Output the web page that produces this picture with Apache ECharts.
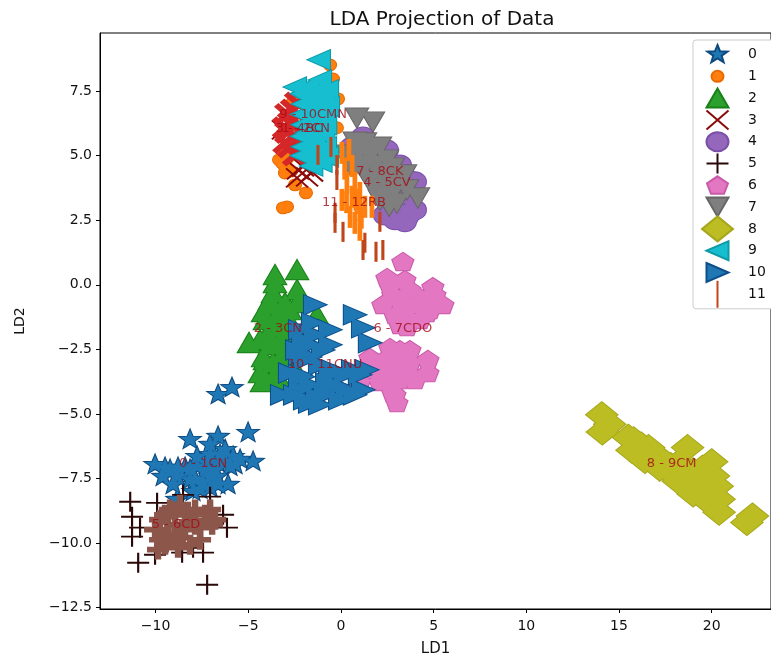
<!DOCTYPE html>
<html>
<head>
<meta charset="utf-8">
<title>LDA Projection of Data</title>
<script src="https://cdn.jsdelivr.net/npm/echarts@6/dist/echarts.min.js"></script>
<style>
html, body { margin: 0; padding: 0; background: #fff; overflow: hidden; }
#chart { width: 771px; height: 657px; }
</style>
</head>
<body>
<div id="chart"></div>
<script>
var xTicks = [-10, -5, 0, 5, 10, 15, 20];
var yTicks = [-12.5, -10, -7.5, -5, -2.5, 0, 2.5, 5, 7.5];

var class0 = [[-6.63,-4.26],[-5.88,-3.99],[-8.14,-6.0],[-6.63,-5.88],[-5.01,-5.73],[-4.74,-6.85],[-10.03,-6.97],[-9.6,-7.43],[-5.82,-6.66],[-5.44,-6.77],[-7.06,-6.19],[-6.25,-6.39],[-7.76,-7.04],[-8.84,-7.43],[-9.06,-7.74],[-8.14,-7.55],[-7.44,-7.66],[-6.68,-7.43],[-6.09,-7.74],[-7.06,-7.86],[-7.98,-8.01],[-8.84,-8.32],[-5.98,-7.04],[-6.68,-6.89],[-7.22,-6.89],[-7.76,-6.66],[-8.41,-7.08],[-9.22,-7.16],[-7.33,-7.16],[-6.79,-7.16],[-6.25,-6.85],[-5.71,-6.97],[-8.14,-7.16],[-8.79,-7.08],[-9.49,-7.08],[-7.87,-7.55],[-7.06,-7.43],[-7.6,-7.93],[-6.63,-7.74],[-6.52,-6.58],[-7.06,-6.58]];
var class1 = [[-0.59,8.51],[-0.16,7.2],[-0.43,7.97],[-0.22,6.08],[-2.59,7.08],[-3.34,4.84],[-3.13,5.11],[-3.02,4.33],[-2.48,3.87],[-1.89,3.56],[-2.91,3.02],[-3.13,2.98],[-3.18,4.72],[-3.02,4.57],[-2.9,4.9],[-2.7,4.4],[-3.1,4.7]];
var class2 = [[-2.37,0.58],[-3.56,0.39],[-3.56,0.08],[-3.67,-0.31],[-2.37,-0.19],[-3.83,-0.77],[-4.2,-1.04],[-3.02,-0.7],[-2.37,-0.7],[-1.29,-1.16],[-4.96,-2.24],[-3.94,-1.86],[-3.45,-1.63],[-4.2,-2.79],[-4.37,-3.41],[-3.67,-3.02],[-4.26,-3.75],[-3.67,-3.6],[-2.91,-2.24],[-3.13,-2.63],[-2.37,-3.79],[-2.91,-1.24],[-3.83,-0.58],[-3.29,-0.97],[-4.1,-1.35],[-3.56,-1.35],[-3.02,-1.55],[-4.37,-2.13],[-3.83,-2.32],[-3.29,-2.13],[-2.75,-1.93],[-4.1,-2.9],[-3.29,-3.1],[-2.75,-2.9],[-4.1,-3.6],[-3.29,-3.68],[-2.75,-0.97],[-2.21,-0.58]];
var class3Edge = [[-2.32,4.45],[-1.83,4.18],[-1.56,4.37],[-2.37,4.14],[-2.05,4.57],[-3.13,6.0]];
var class3Core = [[-2.59,6.77],[-2.75,6.27],[-2.59,5.73],[-2.75,5.34],[-2.48,5.03],[-2.37,7.04],[-3.02,6.08],[-2.9,6.6],[-2.9,5.9],[-3.0,5.5]];
var class4 = [[1.19,5.73],[0.59,5.34],[2.48,5.22],[3.61,4.06],[3.56,2.63],[3.72,2.79],[3.02,2.79],[3.02,4.18],[2.64,3.02],[1.72,4.57],[3.72,3.48],[2.91,2.52],[3.45,2.44],[3.99,2.9],[2.37,2.7],[3.18,4.64],[3.99,3.99]];
var class5Edge = [[-11.37,-8.4],[-11.27,-8.98],[-11.27,-9.75],[-10.94,-10.76],[-7.22,-11.61],[-9.92,-8.44],[-10.84,-9.4],[-7.06,-8.2],[-6.36,-8.9],[-6.15,-9.4],[-7.44,-10.37],[-8.52,-8.13],[-10.03,-10.45],[-8.57,-10.37],[-7.98,-10.18]];
var class5Core = [[-9.22,-8.7],[-8.68,-8.51],[-7.87,-8.7],[-7.33,-8.9],[-9.76,-9.09],[-8.95,-9.29],[-8.14,-9.17],[-7.6,-9.4],[-6.95,-9.29],[-10.03,-9.48],[-9.3,-9.67],[-8.57,-9.79],[-9.49,-10.06],[-8.79,-10.18],[-9.87,-10.25],[-8.14,-10.06],[-7.06,-8.7],[-6.79,-9.09],[-8.95,-8.9],[-8.41,-8.9],[-9.49,-8.9],[-7.87,-9.29],[-8.41,-9.48],[-8.95,-9.87],[-7.6,-9.87],[-9.76,-9.87]];
var class6 = [[3.34,0.89],[2.48,0.27],[2.8,-0.39],[2.26,-0.77],[3.72,-0.19],[4.96,-0.08],[5.5,-0.77],[4.64,-1.08],[3.56,-0.85],[3.56,-1.63],[4.26,-0.5],[2.64,-2.44],[1.56,-2.82],[3.18,-2.79],[4.69,-2.9],[4.69,-3.41],[3.56,-3.41],[2.64,-3.79],[2.1,-3.75],[3.02,-4.57],[2.8,-4.18],[1.02,-3.75],[3.72,-3.02],[2.64,-3.29],[2.64,0],[3.18,-0.58],[3.99,-0.77],[4.53,-0.58],[5.07,-0.39],[2.91,-1.16],[3.72,-1.35],[4.26,-1.35],[3.18,-1.55],[4.8,-0.97],[3.45,0.19],[3.18,-2.52],[2.91,-3.1],[2.37,-2.9],[3.72,-3.48],[3.18,-3.68],[2.91,-4.26],[1.83,-3.29],[3.99,-3.68],[3.72,-2.52]];
var class7 = [[0.86,6.46],[1.72,6.31],[0.75,5.53],[0.32,5.03],[1.29,5.5],[2.1,5.34],[0.75,4.95],[1.56,4.95],[2.48,4.84],[2.8,4.53],[1.19,4.45],[2.1,4.18],[3.18,4.06],[2.48,3.79],[3.56,3.68],[4.15,3.37],[3.02,3.17],[1.72,3.79],[0.75,4.57],[1.02,5.22],[1.56,5.22],[1.02,4.64],[1.83,4.64],[2.37,4.37],[1.56,4.06],[2.37,3.48],[2.91,3.68],[3.45,4.26],[2.1,3.29],[2.6,3.05],[0.49,4.64],[2.64,4.06]];
var class8 = [[14.07,-5.03],[14.1,-5.7],[15.5,-5.9],[15.7,-6.4],[16.8,-6.65],[16.4,-6.8],[18.7,-6.3],[20,-6.85],[18.3,-7.3],[17.7,-7.2],[18.65,-7.75],[19.4,-7.6],[20.3,-7.8],[20.4,-8.3],[20.4,-8.8],[22.2,-8.95],[21.9,-9.2],[14.5,-5.4],[15.8,-6.0],[16.2,-6.2],[16.6,-6.3],[17.2,-6.7],[17.2,-7.1],[17.8,-7.0],[18.2,-6.9],[18.2,-7.6],[19,-7.2],[19.2,-7.7],[19.5,-7.1],[19,-8.1],[19.6,-8.2],[20,-8.5],[20.1,-7.4]];
var class9 = [[-1.19,8.71],[-1.78,7.66],[-1.13,7.93],[-1.13,7.16],[-0.97,6.5],[-1.83,7.28],[-1.29,6.11],[-1.67,6.66],[-1.51,5.61],[-1.83,5.88],[-1.29,5.11],[-1.78,4.91],[-0.86,5.34],[-0.75,7.55],[-0.7,6.89],[-0.75,4.95],[-2.48,7.66],[-2.1,7.4],[-1.5,7.45],[-0.95,7.4],[-2.05,7.0],[-1.45,7.05],[-0.9,6.95],[-2.1,6.6],[-1.4,6.6],[-0.85,6.2],[-2.05,6.2],[-1.5,6.2],[-2.1,5.75],[-0.95,5.8],[-2.05,5.35],[-1.45,5.4],[-2.1,5.0],[-1.1,4.75],[-1.6,4.6]];
var class10 = [[-1.4,-0.77],[0.75,-1.16],[-0.59,-1.74],[1.19,-1.66],[1.56,-2.24],[-1.51,-1.47],[-2.21,-1.74],[-2.05,-2.13],[-0.97,-2.52],[-2.37,-2.52],[-1.67,-2.79],[1.4,-3.29],[0.65,-3.29],[-0.43,-3.29],[-2.75,-3.41],[-2.05,-3.56],[-3.18,-4.26],[-1.29,-4.33],[-1.67,-4.57],[-0.59,-4.06],[0.32,-4.06],[1.19,-4.06],[-0.75,-3.79],[-2.21,-4.06],[-1.67,-2.32],[-1.94,-2.9],[-1.13,-3.1],[-2.21,-3.48],[-0.59,-3.48],[0.22,-3.48],[1.02,-3.48],[-2.48,-4.26],[-1.67,-3.87],[-0.86,-4.26],[-0.05,-4.45],[0.75,-4.26],[-1.94,-4.45],[-1.13,-4.64],[-0.32,-3.87],[-2.21,-2.71],[-1.4,-1.93],[-0.59,-2.32]];
var class11Edge = [[-1.24,5.03],[-0.54,5.34],[-0.22,4.64],[-0.22,4.06],[-0.32,2.79],[-0.32,2.4],[0.11,2.05],[1.29,1.63],[1.19,1.35],[1.89,1.28],[2.26,1.35],[2.1,2.44]];
var class11Core = [[0.43,5.22],[0.05,5.11],[0.32,3.95],[0.75,3.95],[0.05,3.29],[0.49,2.63],[0.75,2.4],[1.02,2.9],[1.02,3.56],[1.29,3.02],[1.67,3.02],[1.02,2.13],[0.86,3.17],[0.59,3.41],[0.2,4.5],[0.6,4.6],[0.8,3.3],[1.1,2.6],[0.3,3.2]];

var labelNames = ['0 - 1CN', '1 - 2CN', '2 - 3CN', '3 - 4BC', '4 - 5CV', '5 - 6CD', '6 - 7CDO', '7 - 8CK', '8 - 9CM', '9 - 10CMN', '10 - 11CNU', '11 - 12RB'];
var labelPoints = [[-7.44,-6.93],[-1.9,6.03],[-3.4,-1.7],[-2.25,6.03],[2.48,3.95],[-8.9,-9.29],[3.34,-1.7],[2.1,4.37],[17.84,-6.93],[-1.5,6.58],[-0.86,-3.1],[0.7,3.2]];

// every path sits in the same 31x27 box so legend and plot keep relative sizes
var box = 'M0 0L0 0M31 27L31 27';
var star = box + 'M15.5 4L18.1 10.27L25.5 10.56L19.69 14.74L21.67 21.19L15.5 17.49L9.33 21.19L11.31 14.74L5.5 10.56L12.9 10.27Z';
var dot = box + 'M9.5 13.5A6 5.5 0 1 1 21.5 13.5A6 5.5 0 1 1 9.5 13.5Z';
var triUp = box + 'M15.5 4L26.5 23L4.5 23Z';
var cross = box + 'M4.5 4L26.5 23M26.5 4L4.5 23';
var circle = box + 'M4.5 13.5A11 9.5 0 1 1 26.5 13.5A11 9.5 0 1 1 4.5 13.5Z';
var plus = box + 'M15.5 3.5L15.5 23.5M4.5 13.5L26.5 13.5';
var pentagon = box + 'M15.5 4.5L26 11.5L22 22L9 22L5 11.5Z';
var triDown = box + 'M4.5 4L26.5 4L15.5 23Z';
var diamond = box + 'M15.5 1L31 13.5L15.5 26L0 13.5Z';
var triLeft = box + 'M4.5 13.5L26.5 4L26.5 23Z';
var triRight = box + 'M4.5 4L26.5 13.5L4.5 23Z';
var bar = box + 'M15.5 0L15.5 27';

function scatter(name, data, symbol, fill, edge, width, size) {
    return {
        name: name,
        type: 'scatter',
        data: data,
        symbol: 'path://' + symbol,
        symbolSize: size || [31, 27],
        symbolKeepAspect: false,
        itemStyle: { color: fill, borderColor: edge, borderWidth: width, opacity: 1 },
        emphasis: { disabled: true }
    };
}

// outline pass first, then a fill pass so overlaps read as one solid shape
function solid(name, data, symbol, fill, edge) {
    return [
        scatter(name, data, symbol, fill, edge, 2),
        scatter(name, data, symbol, fill, fill, 0)
    ];
}

var chart = echarts.init(document.getElementById('chart'));
var font = 'DejaVu Sans';

var series = [].concat(
    solid('0', class0, star, '#1f77b4', '#0d4a80'),
    solid('1', class1, dot, '#ff7f0e', '#e86a00'),
    solid('2', class2, triUp, '#2ca02c', '#178017'),
    scatter('3', class3Edge, cross, 'transparent', '#8b0a0a', 2),
    scatter('3', class3Core, cross, 'transparent', '#d62728', 6),
    solid('4', class4, circle, '#9467bd', '#7a4fa8'),
    scatter('5', class5Edge, plus, 'transparent', '#2a0808', 2),
    scatter('5', class5Core, plus, 'transparent', '#8c564b', 6),
    solid('6', class6, pentagon, '#e377c2', '#c95aa8'),
    solid('7', class7, triDown, '#7f7f7f', '#666'),
    solid('8', class8, diamond, '#bcbd22', '#a6a71c'),
    solid('9', class9, triLeft, '#17becf', '#0e9aa8'),
    solid('10', class10, triRight, '#1f77b4', '#0d4f8b'),
    scatter('11', class11Edge, bar, 'transparent', '#c0451a', 2.5, [31, 20]),
    scatter('11', class11Core, bar, 'transparent', '#ff7f0e', 4, [31, 22]),
    {
        name: 'labels',
        type: 'scatter',
        data: labelPoints,
        symbolSize: 1,
        itemStyle: { color: 'transparent' },
        silent: true,
        z: 20,
        zlevel: 1,
        label: {
            show: true,
            position: 'inside',
            fontFamily: font,
            fontSize: 13,
            color: '#a50a14',
            textBorderWidth: 0,
            formatter: function (p) { return labelNames[p.dataIndex]; }
        }
    }
);

chart.setOption({
    animation: false,
    textStyle: { fontFamily: font },
    title: {
        text: 'LDA Projection of Data',
        left: 437,
        top: 5,
        textAlign: 'center',
        textStyle: { fontFamily: font, fontSize: 20, fontWeight: 'normal', color: '#111' }
    },
    grid: { left: 100, right: 0, top: 33, bottom: 48, show: true, borderColor: '#000', borderWidth: 1, outerBoundsMode: 'none' },
    legend: {
        orient: 'vertical',
        left: 693,
        top: 40,
        padding: [0, 10, 0, 8],
        itemWidth: 31,
        itemHeight: 27,
        itemGap: -7.2,
        backgroundColor: '#fff',
        borderColor: '#ccc',
        borderWidth: 1,
        borderRadius: 3,
        data: ['0', '1', '2', '3', '4', '5', '6', '7', '8', '9', '10', '11'],
        textStyle: { fontFamily: font, fontSize: 14, color: '#111', padding: [0, 0, 0, 10] }
    },
    xAxis: {
        type: 'value',
        min: -13,
        max: 23.2,
        name: 'LD1',
        nameLocation: 'middle',
        nameGap: 33,
        nameTextStyle: { fontSize: 15, color: '#111' },
        splitLine: { show: false },
        axisLine: { show: true, onZero: false, lineStyle: { color: '#000' } },
        axisTick: { show: true, length: 4, customValues: xTicks, lineStyle: { color: '#000' } },
        axisLabel: {
            fontSize: 14,
            margin: 10,
            color: '#111',
            customValues: xTicks,
            formatter: function (v) { return String(v).replace('-', '\u2212'); }
        }
    },
    yAxis: {
        type: 'value',
        min: -12.55,
        max: 9.75,
        name: 'LD2',
        nameLocation: 'middle',
        nameGap: 73,
        nameTextStyle: { fontSize: 14, color: '#111' },
        splitLine: { show: false },
        axisLine: { show: true, onZero: false, lineStyle: { color: '#000' } },
        axisTick: { show: true, length: 4, customValues: yTicks, lineStyle: { color: '#000' } },
        axisLabel: {
            fontSize: 14,
            color: '#111',
            customValues: yTicks,
            formatter: function (v) { return v.toFixed(1).replace('-', '\u2212'); }
        }
    },
    series: series
});
</script>
</body>
</html>
